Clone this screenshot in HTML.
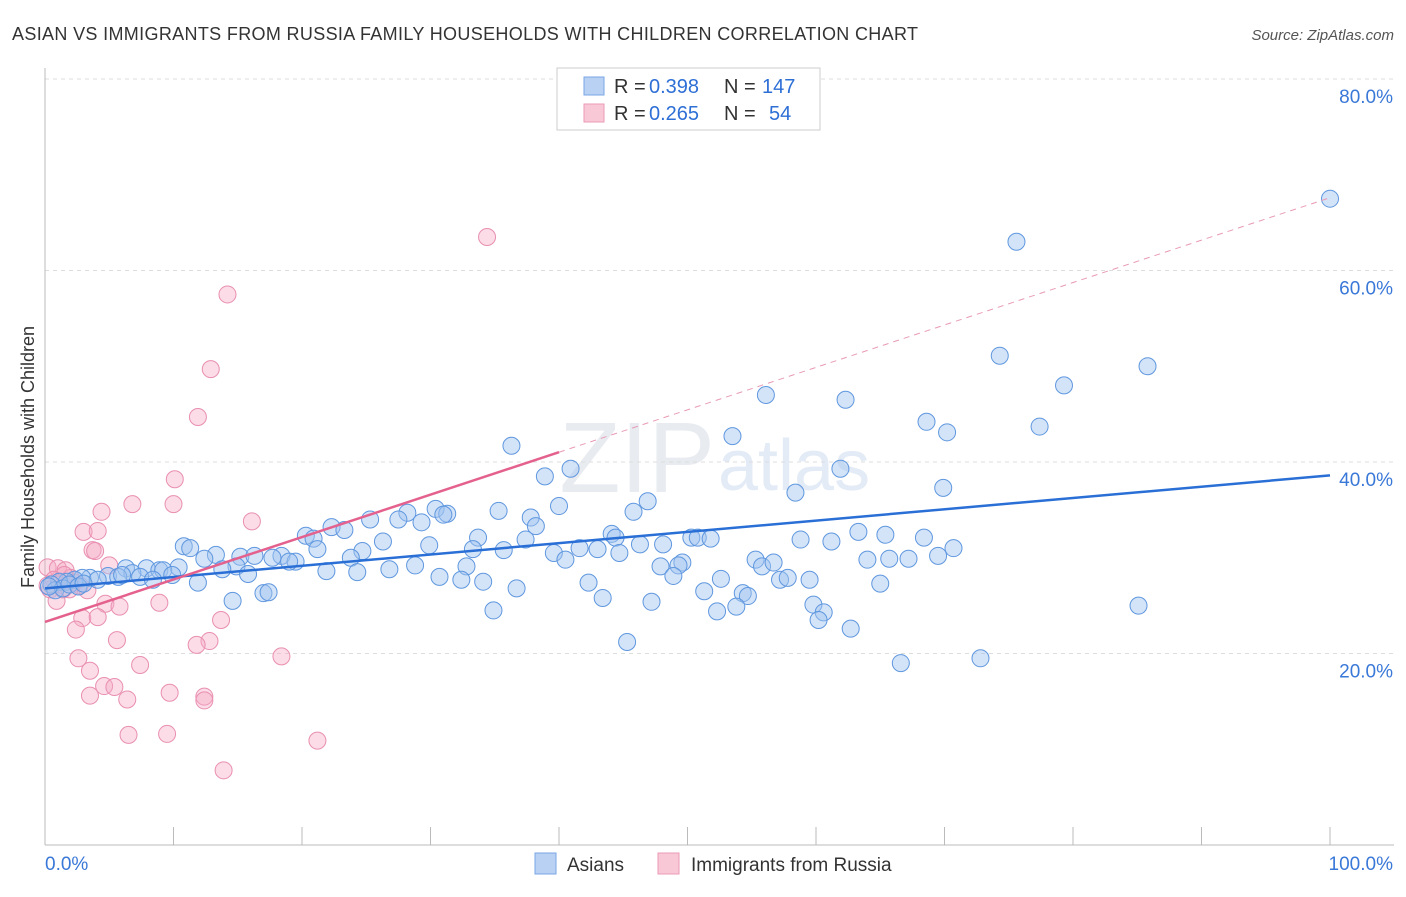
<!DOCTYPE html>
<html><head><meta charset="utf-8">
<style>
body{margin:0;background:#fff;font-family:"Liberation Sans",sans-serif;}
svg text{font-family:"Liberation Sans",sans-serif;}
</style></head>
<body>
<svg width="1406" height="892" id="chart">
<text x="12" y="40" font-size="18" fill="#333" textLength="906" lengthAdjust="spacing">ASIAN VS IMMIGRANTS FROM RUSSIA FAMILY HOUSEHOLDS WITH CHILDREN CORRELATION CHART</text>
<text x="1394" y="40" font-size="15" fill="#555" font-style="italic" text-anchor="end">Source: ZipAtlas.com</text>
<text x="715" y="492" font-size="100" fill="#e8ebf0" font-family="Liberation Serif" text-anchor="end">ZIP</text>
<text x="718" y="490" font-size="72" fill="#e3ebf6">atlas</text>
<text transform="translate(34,457) rotate(-90)" font-size="18" fill="#333" text-anchor="middle">Family Households with Children</text>
<g id="grid"></g>
<g id="pts"></g>
<g id="lines"></g>
<g>
<rect x="557" y="68" width="263" height="62" fill="#fff" stroke="#ccc"/>
<rect x="584" y="77" width="20" height="18" fill="#b9d2f4" stroke="#7aa6e4"/>
<rect x="584" y="104" width="20" height="18" fill="#f9c8d7" stroke="#eb9ab5"/>
<text x="614" y="93" font-size="20" fill="#333">R =</text>
<text x="649" y="93" font-size="20" fill="#2e6fd6">0.398</text>
<text x="724" y="93" font-size="20" fill="#333">N =</text>
<text x="762" y="93" font-size="20" fill="#2e6fd6">147</text>
<text x="614" y="120" font-size="20" fill="#333">R =</text>
<text x="649" y="120" font-size="20" fill="#2e6fd6">0.265</text>
<text x="724" y="120" font-size="20" fill="#333">N =</text>
<text x="769" y="120" font-size="20" fill="#2e6fd6">54</text>
</g>
<g>
<rect x="535" y="853" width="21" height="21" fill="#b9d2f4" stroke="#7aa6e4"/>
<text x="567" y="871" font-size="19" fill="#333">Asians</text>
<rect x="658" y="853" width="21" height="21" fill="#f9c8d7" stroke="#eb9ab5"/>
<text x="691" y="871" font-size="19" fill="#333">Immigrants from Russia</text>
</g>
</svg>
<script>
const blueX=[100,75.6,74.3,79.3,85.8,56.1,62.3,68.6,70.2,77.4,53.5,36.3,40.9,38.9,61.9,58.4,69.9,46.9,40.0,45.8,35.3,28.2,30.4,31.3,27.5,25.3,29.3,37.8,38.2,22.3,23.3,20.3,20.9,26.3,33.7,44.1,44.4,37.4,63.3,65.4,68.4,50.3,50.8,51.8,58.8,61.2,48.1,46.3,43.0,41.6,29.9,35.7,33.3,21.2,24.7,70.7,69.5,10.8,11.3,13.3,12.4,15.2,16.3,18.4,19.5,19.0,17.7,23.8,39.6,40.5,44.7,49.6,49.3,47.9,55.3,55.8,56.7,64.0,65.7,67.2,28.8,32.8,26.8,24.3,21.9,14.9,13.8,15.8,10.4,7.9,8.9,9.2,6.3,6.8,7.4,9.9,8.4,4.9,5.7,3.5,2.9,4.1,2.3,1.7,1.1,0.5,0.8,1.4,1.9,30.7,32.4,34.1,36.7,42.3,48.9,52.6,57.2,57.8,59.5,65.0,11.9,17.0,17.4,14.6,51.3,54.3,54.7,43.4,47.2,52.3,53.8,59.8,60.6,60.2,85.1,34.9,62.7,45.3,66.6,72.8,31.0,2.6,3.0,0.3,6.0];
const blueY=[67.5,63.0,51.1,48.0,50.0,47.0,46.5,44.2,43.1,43.7,42.7,41.7,39.3,38.5,39.3,36.8,37.3,35.9,35.4,34.8,34.9,34.7,35.1,34.6,34.0,34.0,33.7,34.2,33.3,33.2,32.9,32.3,32.0,31.7,32.1,32.5,32.1,31.9,32.7,32.4,32.1,32.1,32.1,32.0,31.9,31.7,31.4,31.4,30.9,31.0,31.3,30.8,30.9,30.9,30.7,31.0,30.2,31.2,31.0,30.3,29.9,30.1,30.2,30.2,29.6,29.6,30.0,30.0,30.5,29.8,30.5,29.5,29.2,29.1,29.8,29.1,29.5,29.8,29.9,29.9,29.2,29.1,28.8,28.5,28.6,29.1,28.8,28.3,29.0,28.9,28.7,28.7,28.9,28.4,28.0,28.2,27.7,28.1,28.0,27.9,27.9,27.7,27.7,27.5,27.5,27.2,26.6,26.8,27.2,28.0,27.7,27.5,26.8,27.4,28.1,27.8,27.7,27.9,27.7,27.3,27.4,26.3,26.4,25.5,26.5,26.3,26.0,25.8,25.4,24.4,24.9,25.1,24.3,23.5,25.0,24.5,22.6,21.2,19.0,19.5,34.5,27.0,27.3,27.0,28.2];
const pinkX=[34.4,14.2,12.9,11.9,10.1,6.8,10.0,4.4,16.1,3.0,4.1,3.7,3.9,5.0,0.2,1.0,1.6,0.7,1.2,2.3,1.4,2.7,1.9,0.4,0.2,3.3,0.9,4.7,5.8,8.9,13.7,2.9,4.1,2.4,5.6,12.8,11.8,18.4,2.6,3.5,7.4,4.6,5.4,3.5,6.4,9.7,12.4,12.4,6.5,9.5,21.2,13.9,2.0,1.5];
const pinkY=[63.5,57.5,49.7,44.7,38.2,35.6,35.6,34.8,33.8,32.7,32.8,30.8,30.7,29.2,29.0,28.9,28.7,27.7,27.4,27.4,26.7,27.1,26.7,26.7,27.1,26.6,25.5,25.2,24.9,25.3,23.5,23.7,23.8,22.5,21.4,21.3,20.9,19.7,19.5,18.2,18.8,16.6,16.5,15.6,15.2,15.9,15.5,15.1,11.5,11.6,10.9,7.8,27.9,28.2];
const trendBlue=[26.8,0.118];
const trendPink=[23.3,0.443];
const yTicks=[20,40,60,80];
const xTickLabels=["0.0%","100.0%"];
const NS="http://www.w3.org/2000/svg";
const X=v=>45+v*12.85, Y=v=>845-v*9.575;
function mk(tag,at,parent){const e=document.createElementNS(NS,tag);for(const k in at)e.setAttribute(k,at[k]);parent.appendChild(e);return e;}
const grid=document.getElementById('grid');
yTicks.forEach(t=>{
 const l=mk('line',{x1:45,x2:1394,y1:Y(t),y2:Y(t),stroke:'#ddd','stroke-dasharray':'4,4'},grid);
 
 
 const tx=mk('text',{x:1393,y:Y(t)+24,'font-size':19,fill:'#3a78d8','text-anchor':'end'},grid);
 tx.textContent=t.toFixed(1)+'%';
 
 
});
const ax=mk('line',{x1:45,x2:1394,y1:845,y2:845,stroke:'#bbb'},grid);


const ay=mk('line',{x1:45,x2:45,y1:68,y2:845,stroke:'#bbb'},grid);


for(let i=0;i<=10;i++){const tk=mk('line',{x1:X(i*10),x2:X(i*10),y1:827,y2:845,stroke:'#bbb'},grid);
 
 }
const xl0=mk('text',{x:45,y:870,'font-size':19,fill:'#3a78d8'},grid);xl0.textContent=xTickLabels[0];


const xl1=mk('text',{x:1393,y:870,'font-size':19,fill:'#3a78d8','text-anchor':'end'},grid);xl1.textContent=xTickLabels[1];


const pts=document.getElementById('pts');
pinkX.forEach((x,i)=>{const c=mk('circle',{cx:X(x),cy:Y(pinkY[i]),r:8.5,fill:'rgba(245,168,196,0.4)',stroke:'#e98fb0','stroke-width':1},pts);
 
 });
blueX.forEach((x,i)=>{const c=mk('circle',{cx:X(x),cy:Y(blueY[i]),r:8.5,fill:'rgba(160,196,240,0.45)',stroke:'#5f97df','stroke-width':1},pts);
 
 });
const lines=document.getElementById('lines');
const lb=mk('line',{x1:X(0),y1:Y(trendBlue[0]),x2:X(100),y2:Y(trendBlue[0]+100*trendBlue[1]),stroke:'#2a6fd6','stroke-width':2.5},lines);


const lp=mk('line',{x1:X(0),y1:Y(trendPink[0]),x2:X(40),y2:Y(trendPink[0]+40*trendPink[1]),stroke:'#e4618e','stroke-width':2.5},lines);


const ld=mk('line',{x1:X(40),y1:Y(trendPink[0]+40*trendPink[1]),x2:X(100),y2:Y(trendPink[0]+100*trendPink[1]),stroke:'#e89ab5','stroke-width':1,'stroke-dasharray':'6,5'},lines);


</script>
</body></html>
